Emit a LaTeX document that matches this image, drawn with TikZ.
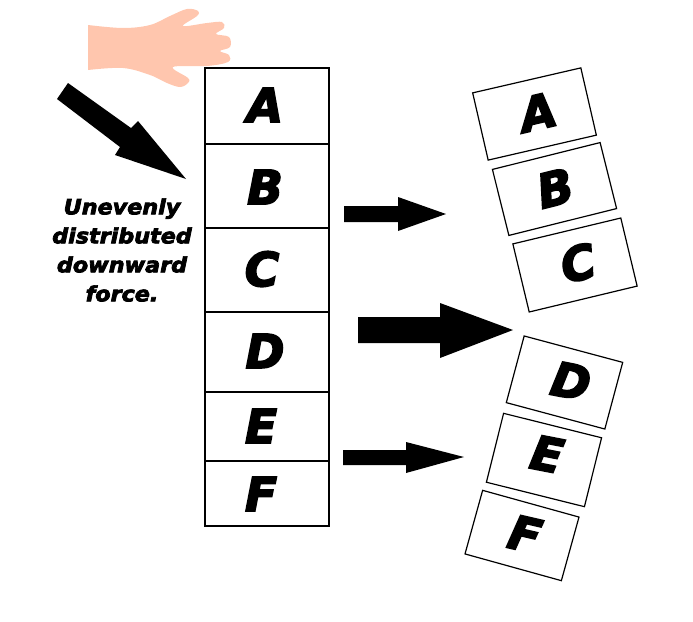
\documentclass[tikz,border=0pt]{standalone}
\usepackage{fontspec}
\setmainfont{DejaVu Sans}[BoldFeatures={FakeBold=3.5},BoldItalicFeatures={FakeBold=3.5}]
\usetikzlibrary{positioning}

\definecolor{handskin}{HTML}{FFC6AE}

\tikzset{
  stackbox/.style={draw,line width=1.3pt,minimum width=124pt,inner sep=0pt,outer sep=0pt,anchor=north},
  tiltbox/.style={draw,line width=1.2pt,inner sep=0pt},
  letter/.style={font=\fontsize{47}{47}\selectfont\bfseries\itshape,inner sep=0pt},
  caption/.style={font=\fontsize{21}{29}\selectfont\bfseries\itshape,align=center,inner sep=0pt,xscale=1.06},
  blockarrow/.style={fill=black}
}

\begin{document}
\begin{tikzpicture}[x=1pt,y=-1pt]
    \useasboundingbox (0,0) rectangle (693,621);

    % hand
    \fill[handskin] plot[smooth,tension=.6] coordinates {(88,25) (123,28) (150,25) (170,16) (187,9) (198,11) (197,16) (183,26)
        (207,23) (222,22) (224,28) (216,34) (229,37) (230,47) (220,51) (229,55) (228,62) (207,66) (173,67)
        (188,78) (188,83) (180,87) (167,83) (150,75) (123,68) (88,70)} -- cycle;

    % stack
    \node[stackbox,minimum height=76pt] (a) at (267,68) {};
    \node[stackbox,minimum height=84pt] (b) [below=0pt of a] {};
    \node[stackbox,minimum height=84pt] (c) [below=0pt of b] {};
    \node[stackbox,minimum height=80pt] (d) [below=0pt of c] {};
    \node[stackbox,minimum height=69pt] (e) [below=0pt of d] {};
    \node[stackbox,minimum height=65pt] (f) [below=0pt of e] {};

    \node[letter] (la) at (265,105) {A};
    \node[letter] (lb) at (265,187) {B};
    \node[letter] (lc) at (262,269) {C};
    \node[letter] (ld) at (265,351) {D};
    \node[letter] (le) at (261,426) {E};
    \node[letter] (lf) at (261,494) {F};

    % pushed apart
    \node[tiltbox,rotate=13,minimum width=111pt,minimum height=69pt] (a2) at (534.5,114) {};
    \node[tiltbox,rotate=14,minimum width=111pt,minimum height=68pt] (b2) at (554.5,189) {};
    \node[tiltbox,rotate=13.5,minimum width=111pt,minimum height=70pt] (c2) at (575,265) {};
    \node[tiltbox,rotate=-15,minimum width=102pt,minimum height=69pt] (d2) at (564.5,382.5) {};
    \node[tiltbox,rotate=-14,minimum width=101pt,minimum height=71pt] (e2) at (544,460) {};
    \node[tiltbox,rotate=-15.5,minimum width=100pt,minimum height=66pt] (f2) at (522,535.5) {};

    \node[letter,rotate=13] (la2) at (538,112) {A};
    \node[letter,rotate=14] (lb2) at (555,188) {B};
    \node[letter,rotate=13.5] (lc2) at (578,263) {C};
    \node[letter,rotate=-11] (ld2) at (571,381) {D};
    \node[letter,rotate=-11] (le2) at (547,454) {E};
    \node[letter,rotate=-13] (lf2) at (525,534) {F};

    % arrows
    \fill[blockarrow] (68,83) -- (131,128) -- (138,121) -- (186,179) -- (115,155) -- (120,147) -- (57,99) -- cycle;
    \fill[blockarrow] (344,206) -- (398,206) -- (398,197) -- (446,214) -- (398,231) -- (398,222) -- (344,222) -- cycle;
    \fill[blockarrow] (358,317) -- (440,317) -- (440,303) -- (513,330) -- (440,358) -- (440,343) -- (358,343) -- cycle;
    \fill[blockarrow] (343,450) -- (406,450) -- (406,442) -- (464,457) -- (406,473) -- (406,465) -- (343,465) -- cycle;

    \node[caption] (force) at (122,250) {Unevenly\\distributed\\downward\\force.};
\end{tikzpicture}
\end{document}
